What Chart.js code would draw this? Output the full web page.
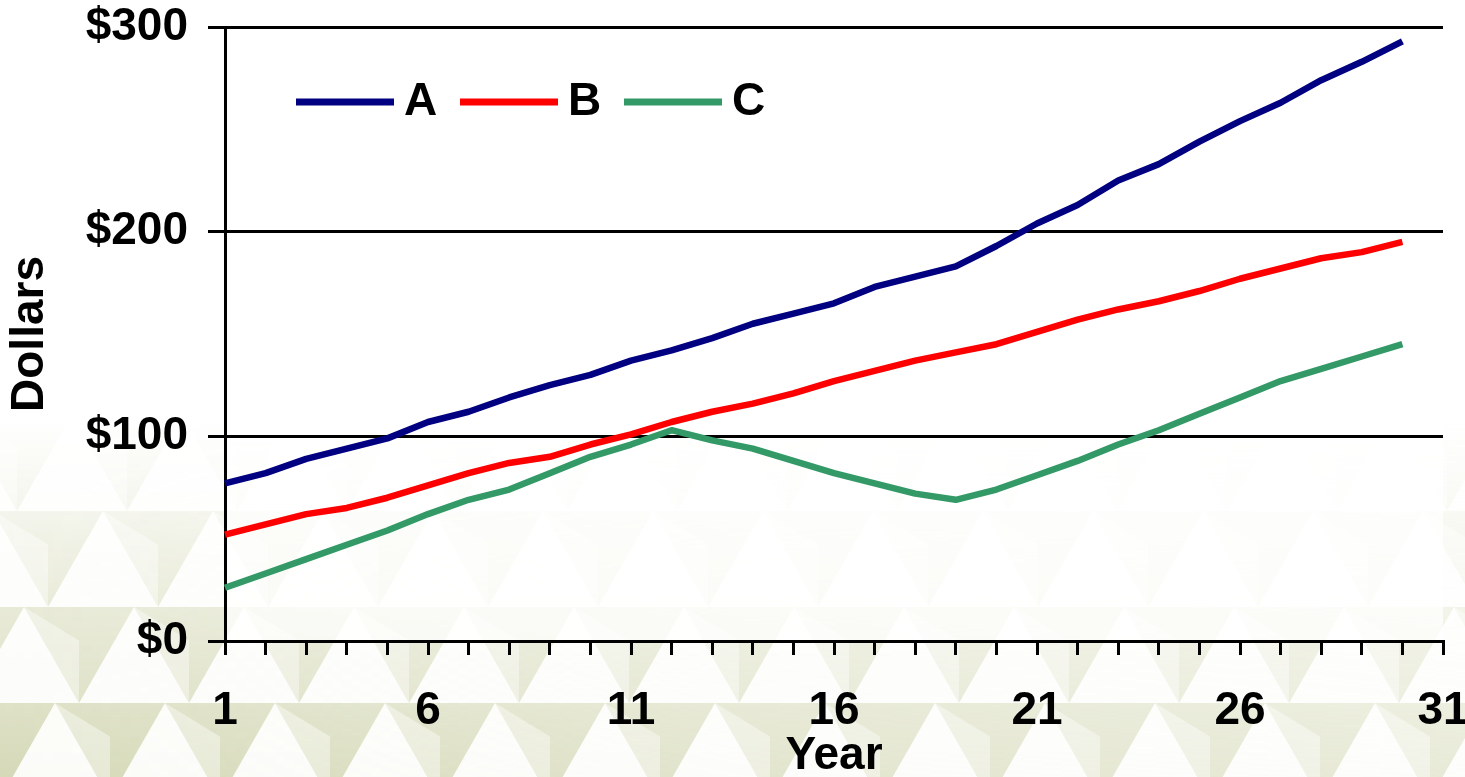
<!DOCTYPE html>
<html>
<head>
<meta charset="utf-8">
<script src="https://cdn.jsdelivr.net/npm/chart.js@4.4.1/dist/chart.umd.min.js"></script>
<style>
  html, body { margin: 0; padding: 0; background: #ffffff; }
  #wrap { width: 1465px; height: 777px; }
</style>
</head>
<body>
<div id="wrap"><canvas id="chart" width="1465" height="777"></canvas></div>
<script>
// Year axis (ticks at every year, labels every five years)
const years = [1, 2, 3, 4, 5, 6, 7, 8, 9, 10, 11, 12, 13, 14, 15, 16, 17, 18, 19, 20,
               21, 22, 23, 24, 25, 26, 27, 28, 29, 30, 31];
const labeledYears = [1, 6, 11, 16, 21, 26, 31];

// Dollar values per year for each series
const seriesA = [77, 82, 89, 94, 99, 107, 112, 119, 125, 130, 137, 142, 148, 155, 160,
                 165, 173, 178, 183, 193, 204, 213, 225, 233, 244, 254, 263, 274, 283, 293];
const seriesB = [52, 57, 62, 65, 70, 76, 82, 87, 90, 96, 101, 107, 112, 116, 121,
                 127, 132, 137, 141, 145, 151, 157, 162, 166, 171, 177, 182, 187, 190, 195];
const seriesC = [26, 33, 40, 47, 54, 62, 69, 74, 82, 90, 96, 103, 98, 94, 88,
                 82, 77, 72, 69, 74, 81, 88, 96, 103, 111, 119, 127, 133, 139, 145];

const seriesNames = ['A', 'B', 'C'];
const yTicks = [0, 100, 200, 300];

const FONT_FAMILY = '"Liberation Sans", Arial, Helvetica, sans-serif';
const FONT_SIZE = 46;
const boldFont = { family: FONT_FAMILY, size: FONT_SIZE, weight: 'bold' };

// Soft olive triangle texture behind the chart, fading out upward and to the right;
// the plot area gets a translucent white wash on top of it
const backdrop = {
  id: 'backdrop',
  beforeDraw(chart) {
    const { ctx, width, height, chartArea } = chart;
    const off = document.createElement('canvas');
    off.width = width; off.height = height;
    const o = off.getContext('2d');

    o.fillStyle = 'rgb(200, 205, 160)';
    o.fillRect(0, 0, width, height);

    const w = 110, h = 96;
    for (let row = 0; row < 6; row++) {
      const yb = height - row * h + 22;
      const yt = yb - h;
      const shift = (row % 2) * (w / 2) + row * 24;
      for (let i = -3; i < width / w + 3; i++) {
        const x0 = i * w + shift;
        // tall pale triangles, apex up
        o.fillStyle = 'rgba(255, 255, 255, 0.9)';
        o.beginPath();
        o.moveTo(x0, yb);
        o.lineTo(x0 + w / 2, yt);
        o.lineTo(x0 + w, yb);
        o.closePath();
        o.fill();
        // lighter facet on each inverted triangle
        o.fillStyle = 'rgba(255, 255, 255, 0.4)';
        o.beginPath();
        o.moveTo(x0 + w / 2, yt);
        o.lineTo(x0 + w, yb);
        o.lineTo(x0 + w, yt + h * 0.35);
        o.closePath();
        o.fill();
      }
    }

    o.globalCompositeOperation = 'destination-in';
    const gv = o.createLinearGradient(0, 420, 0, height);
    gv.addColorStop(0, 'rgba(0,0,0,0)');
    gv.addColorStop(0.4, 'rgba(0,0,0,0.32)');
    gv.addColorStop(1, 'rgba(0,0,0,0.75)');
    o.fillStyle = gv;
    o.fillRect(0, 0, width, height);
    const gh = o.createLinearGradient(0, 0, width, 0);
    gh.addColorStop(0, 'rgba(0,0,0,1)');
    gh.addColorStop(0.5, 'rgba(0,0,0,0.7)');
    gh.addColorStop(1, 'rgba(0,0,0,0.55)');
    o.fillStyle = gh;
    o.fillRect(0, 0, width, height);

    ctx.save();
    ctx.fillStyle = '#ffffff';
    ctx.fillRect(0, 0, width, height);
    ctx.drawImage(off, 0, 0);
    ctx.fillStyle = 'rgba(255, 255, 255, 0.72)';
    ctx.fillRect(chartArea.left, chartArea.top,
                 chartArea.right - chartArea.left, chartArea.bottom - chartArea.top);
    ctx.restore();
  }
};

// Legend drawn inside the plot area as line swatches followed by the series name
const insideLegend = {
  id: 'insideLegend',
  afterDatasetsDraw(chart, args, opts) {
    const { ctx, chartArea } = chart;
    ctx.save();
    ctx.font = `bold ${opts.fontSize}px ${FONT_FAMILY}`;
    ctx.textBaseline = 'middle';
    ctx.textAlign = 'left';
    const y = chartArea.top + opts.offsetY;
    chart.data.datasets.forEach((ds, i) => {
      const x = chartArea.left + opts.offsetX + i * opts.pitch;
      ctx.strokeStyle = ds.borderColor;
      ctx.lineWidth = opts.lineWidth;
      ctx.lineCap = 'butt';
      ctx.beginPath();
      ctx.moveTo(x, y);
      ctx.lineTo(x + opts.lineLength, y);
      ctx.stroke();
      ctx.fillStyle = '#000000';
      ctx.fillText(ds.label, x + opts.lineLength + opts.gap, y);
    });
    ctx.restore();
  }
};

const lineStyle = (label, data, color) => ({
  label, data,
  borderColor: color,
  backgroundColor: color,
  borderWidth: 6.5,
  pointRadius: 0,
  pointHoverRadius: 0,
  tension: 0,
  fill: false,
  borderCapStyle: 'butt',
  borderJoinStyle: 'round'
});

new Chart(document.getElementById('chart'), {
  type: 'line',
  data: {
    labels: years,
    datasets: [
      lineStyle(seriesNames[0], seriesA, '#000080'),
      lineStyle(seriesNames[1], seriesB, '#ff0000'),
      lineStyle(seriesNames[2], seriesC, '#339966')
    ]
  },
  options: {
    responsive: false,
    animation: false,
    devicePixelRatio: 1,
    layout: { padding: { top: 27, right: 22, left: 0, bottom: 0 } },
    plugins: {
      legend: { display: false },
      tooltip: { enabled: false },
      title: { display: false },
      insideLegend: {
        offsetX: 71, offsetY: 75, pitch: 164, lineLength: 98,
        gap: 10, lineWidth: 7, fontSize: FONT_SIZE
      }
    },
    scales: {
      x: {
        type: 'category',
        offset: false,
        afterFit(scale) {
          scale.height = 136;
          scale.paddingLeft = 0;
          scale.paddingRight = 0;
        },
        grid: {
          display: true,
          drawOnChartArea: false,
          drawTicks: true,
          tickLength: 14,
          tickWidth: 3,
          tickColor: '#000000',
          color: '#000000',
          lineWidth: 3
        },
        border: { display: true, color: '#000000', width: 3 },
        ticks: {
          autoSkip: false,
          maxRotation: 0,
          minRotation: 0,
          padding: 29,
          color: '#000000',
          font: boldFont,
          callback(value, index) {
            const yr = years[index];
            return labeledYears.includes(yr) ? String(yr) : '';
          }
        },
        title: {
          display: true,
          text: 'Year',
          color: '#000000',
          font: { family: FONT_FAMILY, size: FONT_SIZE, weight: 'bold', lineHeight: 1 },
          padding: { top: 0, bottom: -2 }
        }
      },
      y: {
        type: 'linear',
        min: yTicks[0],
        max: yTicks[yTicks.length - 1],
        afterFit(scale) {
          scale.width = 225;
          scale.paddingTop = 0;
          scale.paddingBottom = 0;
        },
        afterBuildTicks(scale) {
          scale.ticks = yTicks.map(v => ({ value: v }));
        },
        grid: {
          display: true,
          drawOnChartArea: true,
          drawTicks: true,
          tickLength: 17,
          color: '#000000',
          tickColor: '#000000',
          lineWidth: 3,
          tickWidth: 3
        },
        border: { display: true, color: '#000000', width: 3 },
        ticks: {
          padding: 20,
          color: '#000000',
          font: boldFont,
          callback: v => '$' + v
        },
        title: {
          display: true,
          text: 'Dollars',
          color: '#000000',
          font: { family: FONT_FAMILY, size: FONT_SIZE, weight: 'bold', lineHeight: 1 },
          padding: { top: 7, bottom: 0 }
        }
      }
    }
  },
  plugins: [backdrop, insideLegend]
});
</script>
</body>
</html>
